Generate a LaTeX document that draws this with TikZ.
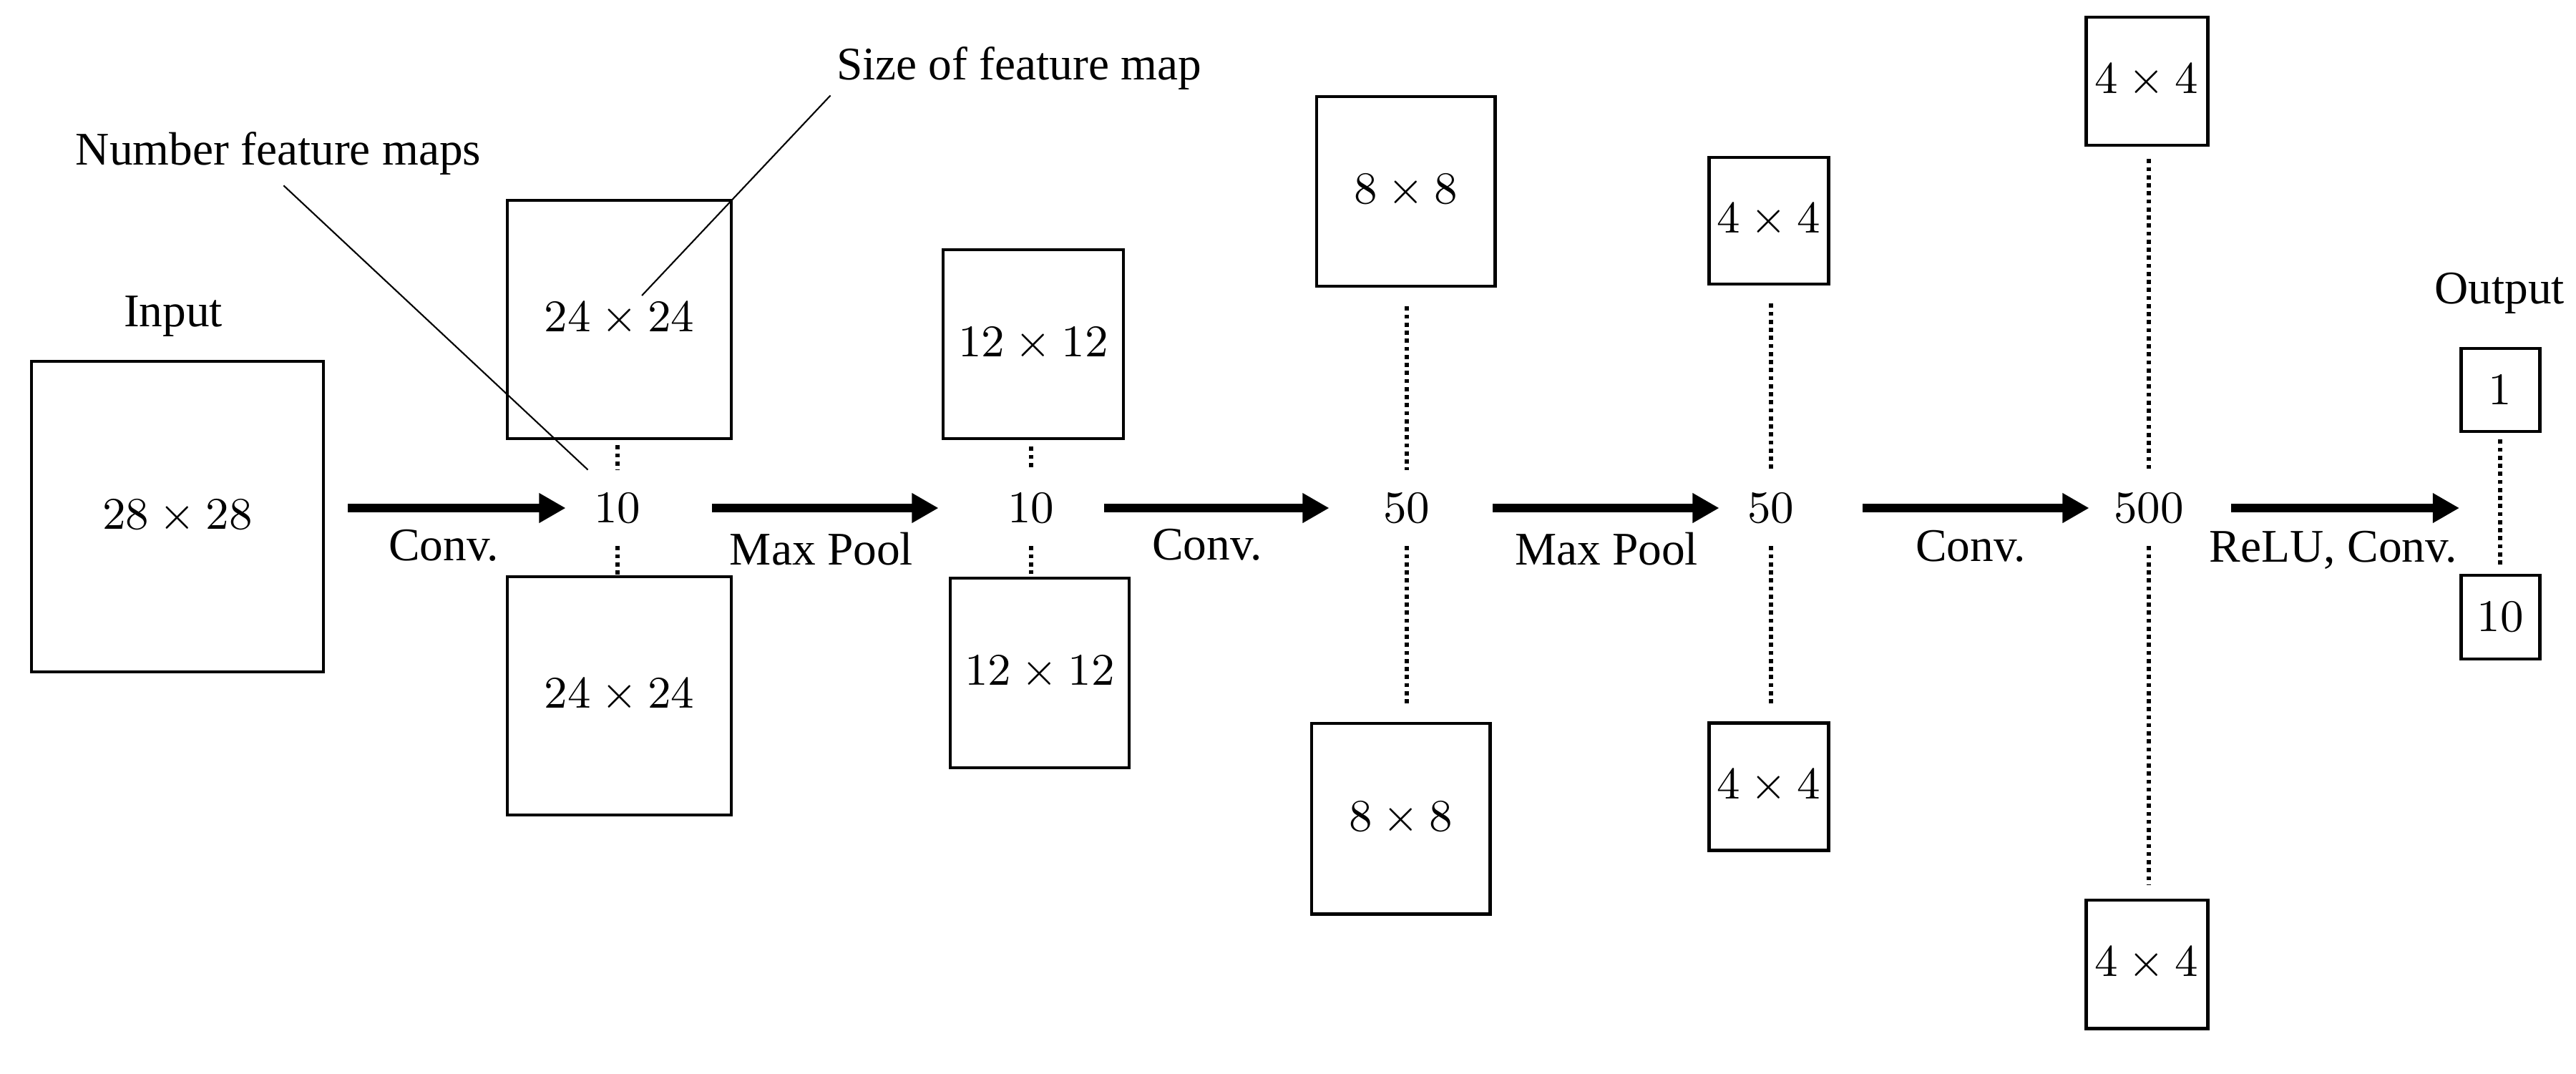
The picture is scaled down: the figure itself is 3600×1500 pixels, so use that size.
\documentclass[tikz,border=0pt]{standalone}
\usepackage{fontspec}
\setmainfont{Liberation Serif}
\usetikzlibrary{arrows.meta}
\tikzset{
  fmap/.style={draw=black,line width=0.7pt,inner sep=0pt},
  cnt/.style={inner sep=0pt,minimum width=6mm,minimum height=5.2mm},
  lbl/.style={inner sep=1pt},
  flow/.style={-{Triangle[length=5.3pt,width=5.6pt]},line width=1.6pt},
  dots/.style={line width=0.9pt,dash pattern=on 0.8pt off 0.8pt},
  lead/.style={line width=0.3pt},
}

\begin{document}
\begin{tikzpicture}[x=0.05mm,y=-0.05mm,font=\fontsize{9.3}{11}\selectfont]
  \useasboundingbox (0,0) rectangle (3600,1500);
  % input
  \node[lbl] (inlab) at (242,442) {Input};
  \node[fmap,minimum width=20.4mm,minimum height=21.7mm] (in) at (248,722) {$28\times28$};
  % first convolution
  \node[cnt] (n1) at (863,710) {$10$};
  \node[fmap,minimum width=15.65mm,minimum height=16.65mm] (c1t) at (865.5,446.5) {$24\times24$};
  \node[fmap,minimum width=15.65mm,minimum height=16.65mm] (c1b) at (865.5,972.5) {$24\times24$};
  % first pooling
  \node[cnt] (n2) at (1441,710) {$10$};
  \node[fmap,minimum width=12.6mm,minimum height=13.2mm] (c2t) at (1444,481) {$12\times12$};
  \node[fmap,minimum width=12.5mm,minimum height=13.25mm] (c2b) at (1453,940.5) {$12\times12$};
  % second convolution
  \node[cnt] (n3) at (1966,710) {$50$};
  \node[fmap,minimum width=12.45mm,minimum height=13.25mm] (c3t) at (1964.5,267.5) {$8\times8$};
  \node[fmap,minimum width=12.45mm,minimum height=13.3mm] (c3b) at (1957.5,1144) {$8\times8$};
  % second pooling
  \node[cnt] (n4) at (2475,710) {$50$};
  \node[fmap,minimum width=8.35mm,minimum height=8.85mm] (c4t) at (2471.5,308.5) {$4\times4$};
  \node[fmap,minimum width=8.35mm,minimum height=8.9mm] (c4b) at (2471.5,1099.5) {$4\times4$};
  % third convolution
  \node[cnt] (n5) at (3003,710) {$500$};
  \node[fmap,minimum width=8.5mm,minimum height=8.95mm] (c5t) at (3000,113.5) {$4\times4$};
  \node[fmap,minimum width=8.5mm,minimum height=8.95mm] (c5b) at (3000,1347.5) {$4\times4$};
  % output
  \node[lbl] (outlab) at (3493,410) {Output};
  \node[fmap,minimum width=5.5mm,minimum height=5.8mm] (o1) at (3494,545) {$1$};
  \node[fmap,minimum width=5.5mm,minimum height=5.85mm] (o10) at (3494,862.5) {$10$};
  \coordinate (omid) at (3494,710);

  % arrows between layers
  \draw[flow,shorten <=1.6mm,shorten >=0.55mm] (in.east |- n1) -- (n1.west);
  \draw[flow,shorten <=3.55mm,shorten >=3.4mm] (n1.east) -- (n2.west);
  \draw[flow,shorten <=2.05mm,shorten >=2.35mm] (n2.east) -- (n3.west);
  \draw[flow,shorten <=2.95mm,shorten >=0.55mm] (n3.east) -- (n4.west);
  \draw[flow,shorten <=3.35mm,shorten >=1.1mm] (n4.east) -- (n5.west);
  \draw[flow,shorten <=2.7mm,shorten >=2.85mm] (n5.east) -- (omid);
  \node[lbl] (k1) at (620,762) {Conv.};
  \node[lbl] (k2) at (1148,767) {Max Pool};
  \node[lbl] (k3) at (1687,761) {Conv.};
  \node[lbl] (k4) at (2245,767) {Max Pool};
  \node[lbl] (k5) at (2754,763) {Conv.};
  \node[lbl] (k6) at (3261,769) {ReLU, Conv.};

  % dotted stacks
  \draw[dots,shorten <=0.35mm] (c1t.south -| n1) -- (n1.north);
  \draw[dots] (n1.south) -- (c1b.north -| n1);
  \draw[dots,shorten <=0.45mm] (c2t.south -| n2) -- (n2.north);
  \draw[dots,shorten >=0.2mm] (n2.south) -- (c2b.north -| n2);
  \draw[dots,shorten <=1.3mm] (c3t.south -| n3) -- (n3.north);
  \draw[dots,shorten >=1.15mm] (n3.south) -- (c3b.north -| n3);
  \draw[dots,shorten <=1.25mm] (c4t.south -| n4) -- (n4.north);
  \draw[dots,shorten >=1.1mm] (n4.south) -- (c4b.north -| n4);
  \draw[dots,shorten <=0.85mm] (c5t.south -| n5) -- (n5.north);
  \draw[dots,shorten >=0.95mm] (n5.south) -- (c5b.north -| n5);
  \draw[dots,shorten <=0.45mm,shorten >=0.5mm] (o1.south) -- (o10.north);

  % annotations
  \node[lbl] (nfm) at (389,214) {Number feature maps};
  \node[lbl] (sfm) at (1424,95) {Size of feature map};
  \draw[lead,shorten <=0.5mm] (nfm.south) -- ([xshift=1mm]n1.north west);
  \draw[lead,shorten >=2.3mm] (sfm.south west) -- (c1t.center);
\end{tikzpicture}
\end{document}
